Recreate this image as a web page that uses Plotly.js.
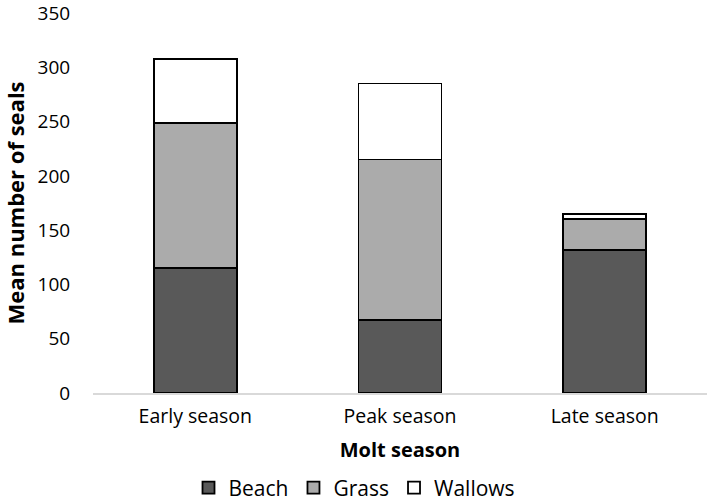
<!DOCTYPE html>
<html>
<head>
<meta charset="utf-8">
<script src="https://cdn.plot.ly/plotly-3.0.1.min.js"></script>
<style>html,body{margin:0;padding:0;background:#fff;}#chart{width:709px;height:501px;}</style>
</head>
<body>
<div id="chart"></div>
<script>
var categories = ["Early season", "Peak season", "Late season"];
var beach = [115, 67, 132];
var grass = [134, 148, 28];
var wallows = [58.5, 70, 5];
var yTicks = [0, 50, 100, 150, 200, 250, 300, 350];

var font = "'Open Sans', 'DejaVu Sans', sans-serif";
function mk(name, vals, color) {
  return {
    type: "bar", name: name, x: categories, y: vals,
    marker: {color: color, line: {color: "#000000", width: 1.8}}
  };
}
var data = [
  mk("Beach", beach, "#595959"),
  mk("Grass", grass, "#ababab"),
  mk("Wallows", wallows, "#ffffff")
];
var layout = {
  width: 709, height: 501,
  margin: {l: 93, r: 2, t: 13, b: 108},
  barmode: "stack",
  bargap: 0.594,
  paper_bgcolor: "#ffffff", plot_bgcolor: "#ffffff",
  font: {family: font, color: "#000000", size: 19},
  showlegend: true,
  legend: {
    orientation: "h", xref: "container", x: 0.5, xanchor: "center",
    yref: "container", y: 0.026, yanchor: "middle",
    font: {size: 21, family: font}, traceorder: "normal",
    itemwidth: 30
  },
  xaxis: {
    type: "category",
    showline: true, linecolor: "#d9d9d9", linewidth: 1.5,
    showgrid: false, zeroline: false,
    ticks: "outside", ticklen: 5, tickcolor: "rgba(0,0,0,0)",
    tickfont: {size: 19.5, family: font},
    title: {text: "<b>Molt season</b>", font: {size: 20, family: font}, standoff: 15}
  },
  yaxis: {
    range: [0, 350.01], tickvals: yTicks, ticktext: yTicks.map(String),
    ticklabeloverflow: "allow",
    showline: false, showgrid: false, zeroline: false,
    ticks: "outside", ticklen: 18, tickcolor: "rgba(0,0,0,0)",
    tickfont: {size: 19, family: font},
    title: {text: "<b>Mean number of seals</b>", font: {size: 22, family: font}, standoff: 16}
  }
};
Plotly.newPlot("chart", data, layout, {displayModeBar: false, staticPlot: true});
</script>
</body>
</html>
